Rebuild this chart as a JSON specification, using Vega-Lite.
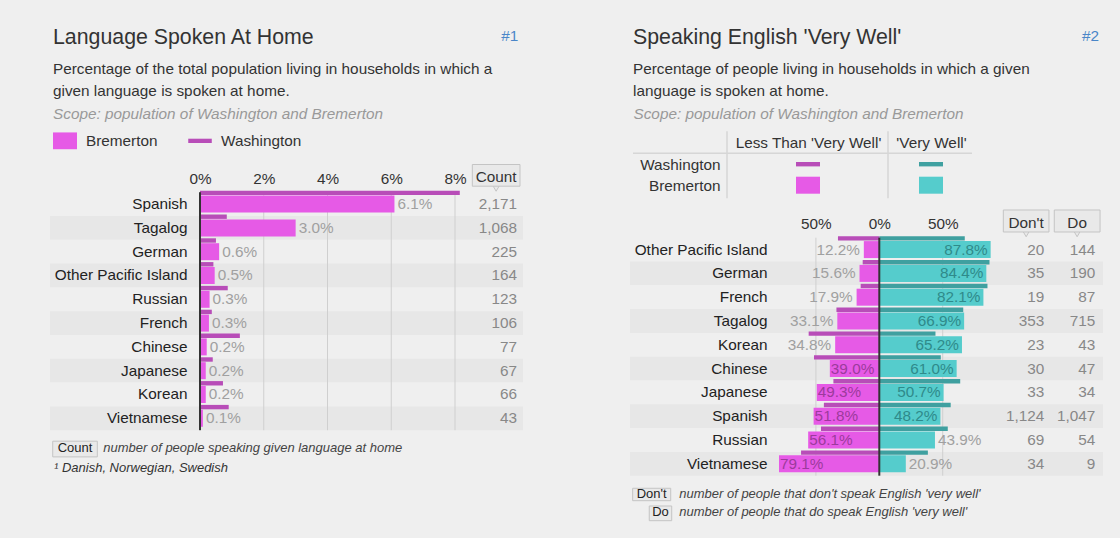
{
  "$schema": "https://vega.github.io/schema/vega-lite/v6.json",
  "background": "#efefef",
  "padding": {"left": 50, "top": 26.2, "right": 20, "bottom": 22},
  "config": {
    "font": "Liberation Sans",
    "view": {"stroke": null},
    "axis": {"labelFont": "Liberation Sans", "labelFontSize": 15.33, "labelColor": "#333", "domain": false, "ticks": false, "tickSize": 0, "grid": false},
    "title": {"font": "Liberation Sans", "fontSize": 21.33, "fontWeight": "normal", "color": "#333", "subtitleFont": "Liberation Sans", "subtitleFontSize": 15.33, "subtitleColor": "#333", "subtitlePadding": 14, "subtitleLineHeight": 22, "anchor": "start", "offset": 0, "frame": "bounds"},
    "text": {"font": "Liberation Sans"}
  },
  "datasets": {
    "home": [
      {"lang": "Spanish", "bremerton": 0.061, "washington": 0.0815, "count": 2171},
      {"lang": "Tagalog", "bremerton": 0.030, "washington": 0.0084, "count": 1068},
      {"lang": "German", "bremerton": 0.0060, "washington": 0.0050, "count": 225},
      {"lang": "Other Pacific Island", "bremerton": 0.0046, "washington": 0.0042, "count": 164},
      {"lang": "Russian", "bremerton": 0.0030, "washington": 0.0087, "count": 123},
      {"lang": "French", "bremerton": 0.0028, "washington": 0.0037, "count": 106},
      {"lang": "Chinese", "bremerton": 0.0021, "washington": 0.0125, "count": 77},
      {"lang": "Japanese", "bremerton": 0.0018, "washington": 0.0040, "count": 67},
      {"lang": "Korean", "bremerton": 0.0018, "washington": 0.0072, "count": 66},
      {"lang": "Vietnamese", "bremerton": 0.0009, "washington": 0.0090, "count": 43}
    ],
    "english": [
      {"lang": "Other Pacific Island", "b_less": 0.122, "b_vw": 0.878, "w_less": 0.326, "w_vw": 0.674, "dont": 20, "do": 144},
      {"lang": "German", "b_less": 0.156, "b_vw": 0.844, "w_less": 0.131, "w_vw": 0.869, "dont": 35, "do": 190},
      {"lang": "French", "b_less": 0.179, "b_vw": 0.821, "w_less": 0.147, "w_vw": 0.853, "dont": 19, "do": 87},
      {"lang": "Tagalog", "b_less": 0.331, "b_vw": 0.669, "w_less": 0.338, "w_vw": 0.662, "dont": 353, "do": 715},
      {"lang": "Korean", "b_less": 0.348, "b_vw": 0.652, "w_less": 0.557, "w_vw": 0.443, "dont": 23, "do": 43},
      {"lang": "Chinese", "b_less": 0.390, "b_vw": 0.610, "w_less": 0.515, "w_vw": 0.485, "dont": 30, "do": 47},
      {"lang": "Japanese", "b_less": 0.493, "b_vw": 0.507, "w_less": 0.362, "w_vw": 0.638, "dont": 33, "do": 34},
      {"lang": "Spanish", "b_less": 0.518, "b_vw": 0.482, "w_less": 0.437, "w_vw": 0.563, "dont": 1124, "do": 1047},
      {"lang": "Russian", "b_less": 0.561, "b_vw": 0.439, "w_less": 0.460, "w_vw": 0.540, "dont": 69, "do": 54},
      {"lang": "Vietnamese", "b_less": 0.791, "b_vw": 0.209, "w_less": 0.617, "w_vw": 0.383, "dont": 34, "do": 9}
    ]
  },
  "spacing": 107,
  "hconcat": [
    {
      "width": 473,
      "height": 238,
      "title": {"text": "Language Spoken At Home", "subtitle": ["Percentage of the total population living in households in which a", "given language is spoken at home."], "dx": 3, "dy": 74.8},
      "data": {"name": "home"},
      "layer": [
        {
          "mark": {"type": "rect"},
          "encoding": {
            "y": {"field": "lang", "type": "nominal", "scale": {"domain": ["Spanish", "Tagalog", "German", "Other Pacific Island", "Russian", "French", "Chinese", "Japanese", "Korean", "Vietnamese"], "paddingInner": 0, "paddingOuter": 0}, "axis": {"orient": "left", "offset": -137, "labelPadding": 0, "zindex": 1, "title": null, "labelColor": "#222", "labelFontSize": 15.33}},
            "fill": {"condition": {"test": {"field": "lang", "oneOf": ["Tagalog", "Other Pacific Island", "French", "Japanese", "Vietnamese"]}, "value": "#e7e7e7"}, "value": "#efefef"}
          }
        },
        {
          "data": {"values": [{"t": 0.02}, {"t": 0.04}, {"t": 0.06}, {"t": 0.08}]},
          "mark": {"type": "rule", "color": "#cfcfcf", "strokeWidth": 1},
          "encoding": {"x": {"field": "t", "type": "quantitative", "scale": {"domain": [-0.04706, 0.10133], "nice": false, "zero": true}}}
        },
        {
          "mark": {"type": "bar", "height": 4.4, "yOffset": -11.2},
          "encoding": {
            "y": {"field": "lang", "type": "nominal", "scale": {"domain": ["Spanish", "Tagalog", "German", "Other Pacific Island", "Russian", "French", "Chinese", "Japanese", "Korean", "Vietnamese"], "paddingInner": 0, "paddingOuter": 0}},
            "x": {"field": "washington", "type": "quantitative", "scale": {"domain": [-0.04706, 0.10133], "nice": false, "zero": true}},
            "color": {"datum": "Washington"}
          }
        },
        {
          "mark": {"type": "bar", "height": 17},
          "encoding": {
            "y": {"field": "lang", "type": "nominal", "scale": {"domain": ["Spanish", "Tagalog", "German", "Other Pacific Island", "Russian", "French", "Chinese", "Japanese", "Korean", "Vietnamese"], "paddingInner": 0, "paddingOuter": 0}},
            "x": {"field": "bremerton", "type": "quantitative", "scale": {"domain": [-0.04706, 0.10133], "nice": false, "zero": true}, "axis": {"orient": "top", "values": [0, 0.02, 0.04, 0.06, 0.08], "format": ".0%", "labelPadding": 6, "title": null, "labelFontSize": 15.33, "labelColor": "#333"}},
            "color": {
              "datum": "Bremerton",
              "scale": {"domain": ["Bremerton", "Washington"], "range": ["#e65ae6", "#b84db8"]},
              "legend": {
                "orient": "none", "legendX": 3, "legendY": -85, "direction": "horizontal",
                "title": "Scope: population of Washington and Bremerton",
                "titleFontStyle": "italic", "titleFontWeight": "normal", "titleColor": "#999", "titleFontSize": 15.33, "titleLimit": 600, "titlePadding": 6,
                "labelFontSize": 15.33, "labelColor": "#333", "symbolSize": 576, "labelOffset": 9, "columnPadding": 30,
                "encode": {"symbols": {"update": {"shape": {"signal": "datum.value === 'Washington' ? 'M-0.98,-0.18H0.98V0.18H-0.98Z' : 'M-1,-0.7H1V0.7H-1Z'"}, "strokeWidth": {"value": 0}}}}
              }
            }
          }
        },
        {
          "data": {"values": [{}]},
          "mark": {"type": "rule", "color": "#333", "strokeWidth": 2},
          "encoding": {"x": {"datum": 0, "type": "quantitative", "scale": {"domain": [-0.04706, 0.10133], "nice": false, "zero": true}}}
        },
        {
          "mark": {"type": "text", "align": "left", "dx": 3, "baseline": "middle", "color": "#a0a0a0", "fontSize": 15.33},
          "encoding": {
            "y": {"field": "lang", "type": "nominal", "scale": {"domain": ["Spanish", "Tagalog", "German", "Other Pacific Island", "Russian", "French", "Chinese", "Japanese", "Korean", "Vietnamese"], "paddingInner": 0, "paddingOuter": 0}},
            "x": {"field": "bremerton", "type": "quantitative", "scale": {"domain": [-0.04706, 0.10133], "nice": false, "zero": true}},
            "text": {"field": "bremerton", "type": "quantitative", "format": ".1%"}
          }
        },
        {
          "mark": {"type": "text", "align": "right", "baseline": "middle", "color": "#888", "fontSize": 15.33},
          "encoding": {
            "y": {"field": "lang", "type": "nominal", "scale": {"domain": ["Spanish", "Tagalog", "German", "Other Pacific Island", "Russian", "French", "Chinese", "Japanese", "Korean", "Vietnamese"], "paddingInner": 0, "paddingOuter": 0}},
            "x": {"datum": 0.09945, "type": "quantitative", "scale": {"domain": [-0.04706, 0.10133], "nice": false, "zero": true}},
            "text": {"field": "count", "type": "quantitative", "format": ",d"}
          }
        },
        {
          "data": {"values": [{"h": "Count"}]},
          "mark": {"type": "point", "shape": "triangle-down", "size": 50, "filled": true, "fill": "#e9e9e9", "stroke": "#c4c4c4", "strokeWidth": 1, "opacity": 1},
          "encoding": {"x": {"datum": 0.0929, "type": "quantitative", "scale": {"domain": [-0.04706, 0.10133], "nice": false, "zero": true}}, "y": {"value": -4}}
        },
        {
          "data": {"values": [{"h": "Count"}]},
          "mark": {"type": "rect", "fill": "#e9e9e9", "stroke": "#c4c4c4", "strokeWidth": 1},
          "encoding": {"x": {"datum": 0.08543, "type": "quantitative", "scale": {"domain": [-0.04706, 0.10133], "nice": false, "zero": true}}, "x2": {"datum": 0.10039}, "y": {"value": -27.7}, "y2": {"value": -6}}
        },
        {
          "data": {"values": [{"h": "Count"}]},
          "mark": {"type": "text", "align": "center", "baseline": "alphabetic", "fontSize": 15.33, "color": "#333"},
          "encoding": {"x": {"datum": 0.0929, "type": "quantitative", "scale": {"domain": [-0.04706, 0.10133], "nice": false, "zero": true}}, "y": {"value": -10.3}, "text": {"field": "h"}}
        },
        {
          "data": {"values": [{"n": "#1"}]},
          "mark": {"type": "text", "align": "right", "baseline": "top", "fontSize": 15.33, "color": "#4a86c8"},
          "encoding": {"x": {"datum": 0.09986, "type": "quantitative", "scale": {"domain": [-0.04706, 0.10133], "nice": false, "zero": true}}, "y": {"value": -163.3}, "text": {"field": "n"}}
        },
        {
          "data": {"values": [{"k": "Count"}]},
          "mark": {"type": "rect", "fill": "#e9e9e9", "stroke": "#c4c4c4", "strokeWidth": 1},
          "encoding": {"x": {"datum": -0.04621, "type": "quantitative", "scale": {"domain": [-0.04706, 0.10133], "nice": false, "zero": true}}, "x2": {"datum": -0.03222}, "y": {"value": 249}, "y2": {"value": 264.7}}
        },
        {
          "data": {"values": [{"k": "Count"}]},
          "mark": {"type": "text", "align": "center", "baseline": "alphabetic", "fontSize": 13, "color": "#222"},
          "encoding": {"x": {"datum": -0.03922, "type": "quantitative", "scale": {"domain": [-0.04706, 0.10133], "nice": false, "zero": true}}, "y": {"value": 260}, "text": {"field": "k"}}
        },
        {
          "data": {"values": [{"d": "number of people speaking given language at home"}]},
          "mark": {"type": "text", "align": "left", "baseline": "alphabetic", "fontSize": 13, "fontStyle": "italic", "color": "#444"},
          "encoding": {"x": {"datum": -0.03034, "type": "quantitative", "scale": {"domain": [-0.04706, 0.10133], "nice": false, "zero": true}}, "y": {"value": 260}, "text": {"field": "d"}}
        },
        {
          "data": {"values": [{"f": "¹ Danish, Norwegian, Swedish"}]},
          "mark": {"type": "text", "align": "left", "baseline": "alphabetic", "fontSize": 13, "fontStyle": "italic", "color": "#333"},
          "encoding": {"x": {"datum": -0.0458, "type": "quantitative", "scale": {"domain": [-0.04706, 0.10133], "nice": false, "zero": true}}, "y": {"value": 279.7}, "text": {"field": "f"}}
        }
      ]
    },
    {
      "spacing": -4.5,
      "vconcat": [
        {
          "width": 342,
          "height": 6,
          "title": {"text": "Speaking English 'Very Well'", "subtitle": ["Percentage of people living in households in which a given", "language is spoken at home."], "dx": 3, "dy": 74.8},
          "data": {"values": [
            {"city": "Washington", "status": "Less Than 'Very Well'"},
            {"city": "Washington", "status": "'Very Well'"},
            {"city": "Bremerton", "status": "Less Than 'Very Well'"},
            {"city": "Bremerton", "status": "'Very Well'"}
          ]},
          "layer": [
            {
              "data": {"values": [{}]},
              "mark": {"type": "rule", "color": "#d6d6d6", "strokeWidth": 1.5},
              "encoding": {"x": {"value": 97}, "y": {"value": -61}, "y2": {"value": 6}}
            },
            {
              "data": {"values": [{}]},
              "mark": {"type": "rule", "color": "#d6d6d6", "strokeWidth": 1.5},
              "encoding": {"x": {"value": 258}, "y": {"value": -61}, "y2": {"value": 6}}
            },
            {
              "data": {"values": [{}]},
              "mark": {"type": "rule", "color": "#d6d6d6", "strokeWidth": 1.5},
              "encoding": {"x": {"value": 3}, "x2": {"value": 342}, "y": {"value": -39}}
            },
            {
              "transform": [{"filter": "datum.city === 'Washington'"}],
              "mark": {"type": "bar", "width": 24, "height": 4.4},
              "encoding": {
                "x": {"field": "status", "type": "nominal", "scale": {"type": "point", "domain": ["Less Than 'Very Well'", "'Very Well'"], "range": [178, 301], "padding": 0},
                  "axis": {"orient": "top", "offset": 39, "title": "Scope: population of Washington and Bremerton", "titleX": 3, "titleY": -35, "titleAlign": "left", "titleBaseline": "alphabetic", "titleFontStyle": "italic", "titleFontWeight": "normal", "titleColor": "#999", "titleFontSize": 15.33, "titleFont": "Liberation Sans", "labelPadding": 3, "labelAngle": 0, "labelFontSize": 15.33, "labelColor": "#333"}},
                "y": {"field": "city", "type": "nominal", "scale": {"type": "point", "domain": ["Washington", "Bremerton"], "range": [-28, -7], "padding": 0}, "axis": {"orient": "left", "offset": -97, "title": null, "labelPadding": 7, "labelFontSize": 15.33, "labelColor": "#333"}},
                "color": {"field": "status", "type": "nominal", "scale": {"domain": ["Less Than 'Very Well'", "'Very Well'"], "range": ["#b84db8", "#3fa0a0"]}, "legend": null}
              }
            },
            {
              "transform": [{"filter": "datum.city === 'Bremerton'"}],
              "mark": {"type": "bar", "width": 24, "height": 17},
              "encoding": {
                "x": {"field": "status", "type": "nominal", "scale": {"type": "point", "domain": ["Less Than 'Very Well'", "'Very Well'"], "range": [178, 301], "padding": 0}},
                "y": {"field": "city", "type": "nominal", "scale": {"type": "point", "domain": ["Washington", "Bremerton"], "range": [-28, -7], "padding": 0}},
                "color": {"field": "status", "type": "nominal", "scale": {"domain": ["Less Than 'Very Well'", "'Very Well'"], "range": ["#e65ae6", "#55cccc"]}, "legend": null}
              }
            },
            {
              "data": {"values": [{"n": "#2"}]},
              "mark": {"type": "text", "align": "right", "baseline": "top", "fontSize": 15.33, "color": "#4a86c8"},
              "encoding": {"x": {"value": 469}, "y": {"value": -163.3}, "text": {"field": "n"}}
            }
          ],
          "resolve": {"scale": {"color": "independent"}}
        },
        {
          "width": 473,
          "height": 238,
          "data": {"name": "english"},
          "layer": [
            {
              "layer": [
                {
                  "mark": {"type": "rect"},
                  "encoding": {
                    "y": {"field": "lang", "type": "nominal", "scale": {"domain": ["Other Pacific Island", "German", "French", "Tagalog", "Korean", "Chinese", "Japanese", "Spanish", "Russian", "Vietnamese"], "paddingInner": 0, "paddingOuter": 0}, "axis": {"orient": "left", "offset": -137, "labelPadding": 0, "zindex": 1, "title": null, "labelColor": "#222", "labelFontSize": 15.33}},
                    "fill": {"condition": {"test": {"field": "lang", "oneOf": ["German", "Tagalog", "Chinese", "Spanish", "Vietnamese"]}, "value": "#e7e7e7"}, "value": "#efefef"}
                  }
                },
                {
                  "data": {"values": [{"t": -0.5}, {"t": 0.5}]},
                  "mark": {"type": "rule", "color": "#cfcfcf", "strokeWidth": 1},
                  "encoding": {"x": {"field": "t", "type": "quantitative", "scale": {"domain": [-1.966, 1.764], "nice": false, "zero": true}}}
                },
                {
                  "mark": {"type": "bar", "height": 4.4, "yOffset": -11.2, "color": "#3fa0a0"},
                  "encoding": {
                    "y": {"field": "lang", "type": "nominal", "scale": {"domain": ["Other Pacific Island", "German", "French", "Tagalog", "Korean", "Chinese", "Japanese", "Spanish", "Russian", "Vietnamese"], "paddingInner": 0, "paddingOuter": 0}},
                    "x": {"field": "w_vw", "type": "quantitative", "scale": {"domain": [-1.966, 1.764], "nice": false, "zero": true}}
                  }
                },
                {
                  "mark": {"type": "bar", "height": 17, "color": "#55cccc"},
                  "encoding": {
                    "y": {"field": "lang", "type": "nominal", "scale": {"domain": ["Other Pacific Island", "German", "French", "Tagalog", "Korean", "Chinese", "Japanese", "Spanish", "Russian", "Vietnamese"], "paddingInner": 0, "paddingOuter": 0}},
                    "x": {"field": "b_vw", "type": "quantitative", "scale": {"domain": [-1.966, 1.764], "nice": false, "zero": true}, "axis": {"orient": "top", "values": [-0.5, 0, 0.5], "labelExpr": "format(abs(datum.value), '.0%')", "labelPadding": 6, "title": null, "labelFontSize": 15.33, "labelColor": "#333"}}
                  }
                }
              ]
            },
            {
              "layer": [
                {
                  "mark": {"type": "bar", "height": 4.4, "yOffset": -11.2, "color": "#b84db8"},
                  "encoding": {
                    "y": {"field": "lang", "type": "nominal", "scale": {"domain": ["Other Pacific Island", "German", "French", "Tagalog", "Korean", "Chinese", "Japanese", "Spanish", "Russian", "Vietnamese"], "paddingInner": 0, "paddingOuter": 0}},
                    "x": {"field": "w_less", "type": "quantitative", "scale": {"domain": [-1.764, 1.966], "reverse": true, "nice": false, "zero": true}, "axis": null}
                  }
                },
                {
                  "mark": {"type": "bar", "height": 17, "color": "#e65ae6"},
                  "encoding": {
                    "y": {"field": "lang", "type": "nominal", "scale": {"domain": ["Other Pacific Island", "German", "French", "Tagalog", "Korean", "Chinese", "Japanese", "Spanish", "Russian", "Vietnamese"], "paddingInner": 0, "paddingOuter": 0}},
                    "x": {"field": "b_less", "type": "quantitative", "scale": {"domain": [-1.764, 1.966], "reverse": true, "nice": false, "zero": true}, "axis": null}
                  }
                },
                {
                  "data": {"values": [{}]},
                  "mark": {"type": "rule", "color": "#333", "strokeWidth": 2},
                  "encoding": {"x": {"datum": 0, "type": "quantitative", "scale": {"domain": [-1.764, 1.966], "reverse": true, "nice": false, "zero": true}, "axis": null}}
                },
                {
                  "transform": [{"filter": "datum.b_less >= 0.39"}],
                  "mark": {"type": "text", "align": "left", "dx": 1, "baseline": "middle", "color": "#9c3a9c", "fontSize": 15.33},
                  "encoding": {
                    "y": {"field": "lang", "type": "nominal", "scale": {"domain": ["Other Pacific Island", "German", "French", "Tagalog", "Korean", "Chinese", "Japanese", "Spanish", "Russian", "Vietnamese"], "paddingInner": 0, "paddingOuter": 0}},
                    "x": {"field": "b_less", "type": "quantitative", "scale": {"domain": [-1.764, 1.966], "reverse": true, "nice": false, "zero": true}, "axis": null},
                    "text": {"field": "b_less", "type": "quantitative", "format": ".1%"}
                  }
                },
                {
                  "transform": [{"filter": "datum.b_less < 0.39"}],
                  "mark": {"type": "text", "align": "right", "dx": -4, "baseline": "middle", "color": "#a0a0a0", "fontSize": 15.33},
                  "encoding": {
                    "y": {"field": "lang", "type": "nominal", "scale": {"domain": ["Other Pacific Island", "German", "French", "Tagalog", "Korean", "Chinese", "Japanese", "Spanish", "Russian", "Vietnamese"], "paddingInner": 0, "paddingOuter": 0}},
                    "x": {"field": "b_less", "type": "quantitative", "scale": {"domain": [-1.764, 1.966], "reverse": true, "nice": false, "zero": true}, "axis": null},
                    "text": {"field": "b_less", "type": "quantitative", "format": ".1%"}
                  }
                }
              ]
            },
            {
              "layer": [
                {
                  "transform": [{"filter": "datum.b_vw >= 0.45"}],
                  "mark": {"type": "text", "align": "right", "dx": -3, "baseline": "middle", "color": "#2f8a8a", "fontSize": 15.33},
                  "encoding": {
                    "y": {"field": "lang", "type": "nominal", "scale": {"domain": ["Other Pacific Island", "German", "French", "Tagalog", "Korean", "Chinese", "Japanese", "Spanish", "Russian", "Vietnamese"], "paddingInner": 0, "paddingOuter": 0}},
                    "x": {"field": "b_vw", "type": "quantitative", "scale": {"domain": [-1.966, 1.764], "nice": false, "zero": true}, "axis": null},
                    "text": {"field": "b_vw", "type": "quantitative", "format": ".1%"}
                  }
                },
                {
                  "transform": [{"filter": "datum.b_vw < 0.45"}],
                  "mark": {"type": "text", "align": "left", "dx": 3, "baseline": "middle", "color": "#a0a0a0", "fontSize": 15.33},
                  "encoding": {
                    "y": {"field": "lang", "type": "nominal", "scale": {"domain": ["Other Pacific Island", "German", "French", "Tagalog", "Korean", "Chinese", "Japanese", "Spanish", "Russian", "Vietnamese"], "paddingInner": 0, "paddingOuter": 0}},
                    "x": {"field": "b_vw", "type": "quantitative", "scale": {"domain": [-1.966, 1.764], "nice": false, "zero": true}, "axis": null},
                    "text": {"field": "b_vw", "type": "quantitative", "format": ".1%"}
                  }
                },
                {
                  "mark": {"type": "text", "align": "right", "baseline": "middle", "color": "#888", "fontSize": 15.33},
                  "encoding": {
                    "y": {"field": "lang", "type": "nominal", "scale": {"domain": ["Other Pacific Island", "German", "French", "Tagalog", "Korean", "Chinese", "Japanese", "Spanish", "Russian", "Vietnamese"], "paddingInner": 0, "paddingOuter": 0}},
                    "x": {"datum": 1.301, "type": "quantitative", "scale": {"domain": [-1.966, 1.764], "nice": false, "zero": true}, "axis": null},
                    "text": {"field": "dont", "type": "quantitative", "format": ",d"}
                  }
                },
                {
                  "mark": {"type": "text", "align": "right", "baseline": "middle", "color": "#888", "fontSize": 15.33},
                  "encoding": {
                    "y": {"field": "lang", "type": "nominal", "scale": {"domain": ["Other Pacific Island", "German", "French", "Tagalog", "Korean", "Chinese", "Japanese", "Spanish", "Russian", "Vietnamese"], "paddingInner": 0, "paddingOuter": 0}},
                    "x": {"datum": 1.703, "type": "quantitative", "scale": {"domain": [-1.966, 1.764], "nice": false, "zero": true}, "axis": null},
                    "text": {"field": "do", "type": "quantitative", "format": ",d"}
                  }
                },
                {
                  "data": {"values": [{"h": "Don't"}]},
                  "mark": {"type": "point", "shape": "triangle-down", "size": 50, "filled": true, "fill": "#e9e9e9", "stroke": "#c4c4c4", "strokeWidth": 1, "opacity": 1},
                  "encoding": {"x": {"datum": 1.158, "type": "quantitative", "scale": {"domain": [-1.966, 1.764], "nice": false, "zero": true}, "axis": null}, "y": {"value": -4}}
                },
                {
                  "data": {"values": [{"h": "Do"}]},
                  "mark": {"type": "point", "shape": "triangle-down", "size": 50, "filled": true, "fill": "#e9e9e9", "stroke": "#c4c4c4", "strokeWidth": 1, "opacity": 1},
                  "encoding": {"x": {"datum": 1.56, "type": "quantitative", "scale": {"domain": [-1.966, 1.764], "nice": false, "zero": true}, "axis": null}, "y": {"value": -4}}
                },
                {
                  "data": {"values": [{"h": "Don't"}]},
                  "mark": {"type": "rect", "fill": "#e9e9e9", "stroke": "#c4c4c4", "strokeWidth": 1},
                  "encoding": {"x": {"datum": 0.978, "type": "quantitative", "scale": {"domain": [-1.966, 1.764], "nice": false, "zero": true}, "axis": null}, "x2": {"datum": 1.338}, "y": {"value": -27.7}, "y2": {"value": -5.7}}
                },
                {
                  "data": {"values": [{"h": "Do"}]},
                  "mark": {"type": "rect", "fill": "#e9e9e9", "stroke": "#c4c4c4", "strokeWidth": 1},
                  "encoding": {"x": {"datum": 1.38, "type": "quantitative", "scale": {"domain": [-1.966, 1.764], "nice": false, "zero": true}, "axis": null}, "x2": {"datum": 1.741}, "y": {"value": -27.7}, "y2": {"value": -5.7}}
                },
                {
                  "data": {"values": [{"h": "Don't"}]},
                  "mark": {"type": "text", "align": "center", "baseline": "alphabetic", "fontSize": 15.33, "color": "#333"},
                  "encoding": {"x": {"datum": 1.158, "type": "quantitative", "scale": {"domain": [-1.966, 1.764], "nice": false, "zero": true}, "axis": null}, "y": {"value": -10}, "text": {"field": "h"}}
                },
                {
                  "data": {"values": [{"h": "Do"}]},
                  "mark": {"type": "text", "align": "center", "baseline": "alphabetic", "fontSize": 15.33, "color": "#333"},
                  "encoding": {"x": {"datum": 1.56, "type": "quantitative", "scale": {"domain": [-1.966, 1.764], "nice": false, "zero": true}, "axis": null}, "y": {"value": -10}, "text": {"field": "h"}}
                },
                {
                  "data": {"values": [{"k": "Don't"}]},
                  "mark": {"type": "rect", "fill": "#e9e9e9", "stroke": "#c4c4c4", "strokeWidth": 1},
                  "encoding": {"x": {"datum": -1.945, "type": "quantitative", "scale": {"domain": [-1.966, 1.764], "nice": false, "zero": true}, "axis": null}, "x2": {"datum": -1.645}, "y": {"value": 250.6}, "y2": {"value": 263}}
                },
                {
                  "data": {"values": [{"k": "Do"}]},
                  "mark": {"type": "rect", "fill": "#e9e9e9", "stroke": "#c4c4c4", "strokeWidth": 1},
                  "encoding": {"x": {"datum": -1.814, "type": "quantitative", "scale": {"domain": [-1.966, 1.764], "nice": false, "zero": true}, "axis": null}, "x2": {"datum": -1.637}, "y": {"value": 268.3}, "y2": {"value": 283}}
                },
                {
                  "data": {"values": [{"k": "Don't"}]},
                  "mark": {"type": "text", "align": "center", "baseline": "alphabetic", "fontSize": 13, "color": "#222"},
                  "encoding": {"x": {"datum": -1.795, "type": "quantitative", "scale": {"domain": [-1.966, 1.764], "nice": false, "zero": true}, "axis": null}, "y": {"value": 260.3}, "text": {"field": "k"}}
                },
                {
                  "data": {"values": [{"k": "Do"}]},
                  "mark": {"type": "text", "align": "center", "baseline": "alphabetic", "fontSize": 13, "color": "#222"},
                  "encoding": {"x": {"datum": -1.726, "type": "quantitative", "scale": {"domain": [-1.966, 1.764], "nice": false, "zero": true}, "axis": null}, "y": {"value": 278.3}, "text": {"field": "k"}}
                },
                {
                  "data": {"values": [{"d": "number of people that don't speak English 'very well'"}]},
                  "mark": {"type": "text", "align": "left", "baseline": "alphabetic", "fontSize": 13, "fontStyle": "italic", "color": "#444"},
                  "encoding": {"x": {"datum": -1.577, "type": "quantitative", "scale": {"domain": [-1.966, 1.764], "nice": false, "zero": true}, "axis": null}, "y": {"value": 260.3}, "text": {"field": "d"}}
                },
                {
                  "data": {"values": [{"d": "number of people that do speak English 'very well'"}]},
                  "mark": {"type": "text", "align": "left", "baseline": "alphabetic", "fontSize": 13, "fontStyle": "italic", "color": "#444"},
                  "encoding": {"x": {"datum": -1.577, "type": "quantitative", "scale": {"domain": [-1.966, 1.764], "nice": false, "zero": true}, "axis": null}, "y": {"value": 278.3}, "text": {"field": "d"}}
                }
              ]
            }
          ],
          "resolve": {"scale": {"x": "independent"}}
        }
      ]
    }
  ]
}
